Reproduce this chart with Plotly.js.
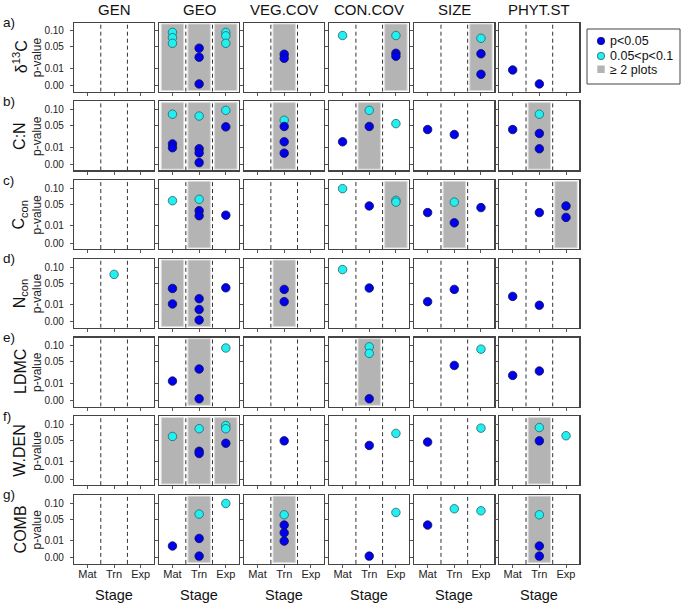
<!DOCTYPE html>
<html>
<head>
<meta charset="utf-8">
<script src="https://cdn.plot.ly/plotly-3.0.1.min.js"></script>
<style>html,body{margin:0;padding:0;background:#fff;}#chart{width:685px;height:604px;}</style>
</head>
<body>
<div id="chart"></div>
<script>
// ---------- data ----------
const predictors = ["GEN", "GEO", "VEG.COV", "CON.COV", "SIZE", "PHYT.ST"];
const stages = ["Mat", "Trn", "Exp"];
const responseLabels = ["δ<sup>13</sup>C", "C:N", "C<sub>con</sub>", "N<sub>con</sub>", "LDMC", "W.DEN", "COMB"];
const rowLetters = ["a)", "b)", "c)", "d)", "e)", "f)", "g)"];
const yTickValues = [0, 0.01, 0.05, 0.10];
const yTickText = ["0.00", "0.01", "0.05", "0.10"];

// [predictor, stage, p-value]
const pts_d13C = [["GEO","Mat",0.095],["GEO","Mat",0.077],["GEO","Mat",0.060],
  ["GEO","Trn",0.047],["GEO","Trn",0.027],["GEO","Trn",0.0001],
  ["GEO","Exp",0.095],["GEO","Exp",0.083],["GEO","Exp",0.060],
  ["VEG.COV","Trn",0.033],["VEG.COV","Trn",0.025],
  ["CON.COV","Mat",0.084],["CON.COV","Exp",0.084],["CON.COV","Exp",0.035],["CON.COV","Exp",0.029],
  ["SIZE","Exp",0.075],["SIZE","Exp",0.034],["SIZE","Exp",0.0043],
  ["PHYT.ST","Mat",0.0082],["PHYT.ST","Trn",0.0001]];
const pts_CN = [["GEO","Mat",0.084],["GEO","Mat",0.014],["GEO","Mat",0.0092],
  ["GEO","Trn",0.078],["GEO","Trn",0.0081],["GEO","Trn",0.0044],["GEO","Trn",0.0001],
  ["GEO","Exp",0.0975],["GEO","Exp",0.047],
  ["VEG.COV","Trn",0.065],["VEG.COV","Trn",0.048],["VEG.COV","Trn",0.017],["VEG.COV","Trn",0.0042],
  ["CON.COV","Mat",0.017],["CON.COV","Trn",0.0975],["CON.COV","Trn",0.048],["CON.COV","Exp",0.0555],
  ["SIZE","Mat",0.0405],["SIZE","Trn",0.0297],
  ["PHYT.ST","Mat",0.0405],["PHYT.ST","Trn",0.084],["PHYT.ST","Trn",0.032],["PHYT.ST","Trn",0.0081]];
const pts_Ccon = [["GEO","Mat",0.060],["GEO","Trn",0.064],["GEO","Trn",0.035],["GEO","Trn",0.025],["GEO","Exp",0.026],
  ["CON.COV","Mat",0.099],["CON.COV","Trn",0.046],["CON.COV","Exp",0.061],["CON.COV","Exp",0.056],
  ["SIZE","Mat",0.031],["SIZE","Trn",0.056],["SIZE","Trn",0.0137],["SIZE","Exp",0.042],
  ["PHYT.ST","Trn",0.031],["PHYT.ST","Exp",0.046],["PHYT.ST","Exp",0.022]];
const pts_Ncon = [["GEN","Trn",0.075],
  ["GEO","Mat",0.037],["GEO","Mat",0.0106],["GEO","Trn",0.0178],["GEO","Trn",0.005],["GEO","Trn",0.0001],["GEO","Exp",0.0385],
  ["VEG.COV","Trn",0.035],["VEG.COV","Trn",0.0135],
  ["CON.COV","Mat",0.091],["CON.COV","Trn",0.038],
  ["SIZE","Mat",0.0135],["SIZE","Trn",0.035],
  ["PHYT.ST","Mat",0.0215],["PHYT.ST","Trn",0.0091]];
const pts_LDMC = [["GEO","Mat",0.0126],["GEO","Trn",0.033],["GEO","Trn",0.0001],["GEO","Exp",0.092],
  ["CON.COV","Trn",0.096],["CON.COV","Trn",0.074],["CON.COV","Trn",0.0001],
  ["SIZE","Trn",0.041],["SIZE","Exp",0.088],
  ["PHYT.ST","Mat",0.021],["PHYT.ST","Trn",0.029]];
const pts_WDEN = [["GEO","Mat",0.061],["GEO","Trn",0.085],["GEO","Trn",0.026],["GEO","Trn",0.022],
  ["GEO","Exp",0.096],["GEO","Exp",0.085],["GEO","Exp",0.043],
  ["VEG.COV","Trn",0.049],
  ["CON.COV","Trn",0.038],["CON.COV","Exp",0.070],
  ["SIZE","Mat",0.046],["SIZE","Exp",0.087],
  ["PHYT.ST","Trn",0.089],["PHYT.ST","Trn",0.049],["PHYT.ST","Exp",0.063]];
const pts_COMB = [["GEO","Mat",0.0047],["GEO","Trn",0.064],["GEO","Trn",0.0126],["GEO","Trn",0.0001],["GEO","Exp",0.099],
  ["VEG.COV","Trn",0.062],["VEG.COV","Trn",0.036],["VEG.COV","Trn",0.021],["VEG.COV","Trn",0.0094],
  ["CON.COV","Trn",0.0001],["CON.COV","Exp",0.069],
  ["SIZE","Mat",0.036],["SIZE","Trn",0.0805],["SIZE","Exp",0.074],
  ["PHYT.ST","Trn",0.062],["PHYT.ST","Trn",0.0047],["PHYT.ST","Trn",0.0001]];

// [predictor, stage] cells with >= 2 plots
const grey_d13C = [["GEO","Mat"],["GEO","Trn"],["GEO","Exp"],["VEG.COV","Trn"],["CON.COV","Exp"],["SIZE","Exp"]];
const grey_CN   = [["GEO","Mat"],["GEO","Trn"],["GEO","Exp"],["VEG.COV","Trn"],["CON.COV","Trn"],["PHYT.ST","Trn"]];
const grey_Ccon = [["GEO","Trn"],["CON.COV","Exp"],["SIZE","Trn"],["PHYT.ST","Exp"]];
const grey_Ncon = [["GEO","Mat"],["GEO","Trn"],["VEG.COV","Trn"]];
const grey_LDMC = [["GEO","Trn"],["CON.COV","Trn"]];
const grey_WDEN = [["GEO","Mat"],["GEO","Trn"],["GEO","Exp"],["PHYT.ST","Trn"]];
const grey_COMB = [["GEO","Trn"],["VEG.COV","Trn"],["PHYT.ST","Trn"]];

const rowPoints = [pts_d13C, pts_CN, pts_Ccon, pts_Ncon, pts_LDMC, pts_WDEN, pts_COMB];
const rowGrey = [grey_d13C, grey_CN, grey_Ccon, grey_Ncon, grey_LDMC, grey_WDEN, grey_COMB];

// ---------- layout / drawing ----------
const W = 685, H = 604;
const BLUE = "#0000ee", CYAN = "#22f0f0", GREY = "#b4b4b4";
const FONT = "Liberation Sans, Arial, sans-serif";
const px = x => x / W, py = y => 1 - y / H;
const colLeft = i => 74.1 + 85.05 * i, panelW = 80;
const rowTop = j => 22.7 + 78.7 * j, panelH = 69;
const tr = p => Math.sqrt(p);
const stageX = s => stages.indexOf(s) + 1;
const YR = [-0.035, 0.364];

const data = [], shapes = [], annotations = [];
const layout = {
  width: W, height: H, margin: {l: 0, r: 0, t: 0, b: 0},
  paper_bgcolor: "#fff", plot_bgcolor: "#fff", showlegend: false,
  font: {family: FONT, color: "#222"}
};

for (let j = 0; j < 7; j++) {
  for (let i = 0; i < 6; i++) {
    const k = j * 6 + i + 1;
    const xn = k === 1 ? "" : String(k);
    const xref = "x" + xn, yref = "y" + xn;
    layout["xaxis" + xn] = {
      domain: [px(colLeft(i)), px(colLeft(i) + panelW)], anchor: yref,
      range: [0.5, 3.5], tickvals: [1, 2, 3], ticktext: stages,
      showticklabels: j === 6, ticks: "outside", ticklen: 3, tickwidth: 1, tickcolor: "#555",
      tickfont: {size: 11, family: FONT, color: "#222"}, ticklabelstandoff: -3,
      showline: true, mirror: true, linecolor: "#444", linewidth: 1.2,
      showgrid: false, zeroline: false, fixedrange: true
    };
    layout["yaxis" + xn] = {
      domain: [py(rowTop(j) + panelH), py(rowTop(j))], anchor: xref,
      range: YR, tickvals: yTickValues.map(tr), ticktext: yTickText,
      showticklabels: i === 0, ticks: "outside", ticklen: 3, tickwidth: 1, tickcolor: "#555",
      tickfont: {size: 10, family: FONT, color: "#222"}, ticklabelstandoff: 4,
      showline: true, mirror: true, linecolor: "#444", linewidth: 1.2,
      showgrid: false, zeroline: false, fixedrange: true
    };
    // grey cells
    rowGrey[j].filter(g => g[0] === predictors[i]).forEach(g => {
      const c = stageX(g[1]);
      shapes.push({type: "rect", xref: xref, yref: yref, x0: c - 0.42, x1: c + 0.42,
        y0: -0.028, y1: 0.357, fillcolor: GREY, line: {color: "#dcdcdc", width: 1}, layer: "below"});
    });
    // dashed separators
    [1.5, 2.5].forEach(xv => shapes.push({type: "line", xref: xref, yref: yref,
      x0: xv, x1: xv, y0: YR[0], y1: YR[1], line: {color: "#333", width: 1, dash: "4px,3px"}, layer: "below"}));
    // points
    const pts = rowPoints[j].filter(p => p[0] === predictors[i]);
    const marg = pts.filter(p => p[2] >= 0.05), sig = pts.filter(p => p[2] < 0.05);
    [[marg, CYAN, "#2a5f66"], [sig, BLUE, "#101050"]].forEach(([arr, col, lc]) => {
      data.push({type: "scatter", mode: "markers", xaxis: xref, yaxis: yref,
        x: arr.map(p => stageX(p[1])), y: arr.map(p => tr(p[2])),
        marker: {size: 8.5, color: col, line: {color: lc, width: 0.8}},
        hoverinfo: "skip", cliponaxis: false});
    });
  }
}

// column titles and "Stage" labels
predictors.forEach((p, i) => {
  const cx = px(colLeft(i) + panelW / 2);
  annotations.push({text: p, x: cx, y: py(10), xref: "paper", yref: "paper", xanchor: "center", yanchor: "middle",
    showarrow: false, font: {size: 15, family: FONT, color: "#111"}});
  annotations.push({text: "Stage", x: cx, y: py(595), xref: "paper", yref: "paper", xanchor: "center", yanchor: "middle",
    showarrow: false, font: {size: 14.5, family: FONT, color: "#111"}});
});
// row labels
responseLabels.forEach((lab, j) => {
  const cy = rowTop(j) + panelH / 2;
  annotations.push({text: rowLetters[j], x: px(1), y: py(rowTop(j)), xref: "paper", yref: "paper",
    xanchor: "left", yanchor: "middle", showarrow: false, font: {size: 13.5, family: FONT, color: "#111"}});
  annotations.push({text: lab, x: px(20), y: py(cy), xref: "paper", yref: "paper", textangle: -90,
    xanchor: "center", yanchor: "middle", showarrow: false, font: {size: 16, family: FONT, color: "#111"}});
  annotations.push({text: "p-value", x: px(37), y: py(cy), xref: "paper", yref: "paper", textangle: -90,
    xanchor: "center", yanchor: "middle", showarrow: false, font: {size: 12, family: FONT, color: "#222"}});
});

// legend (drawn manually)
shapes.push({type: "rect", xref: "paper", yref: "paper", x0: px(587), x1: px(680), y0: py(84), y1: py(29),
  line: {color: "#444", width: 1}, fillcolor: "#fff"});
shapes.push({type: "circle", xref: "paper", yref: "paper", x0: px(597.3), x1: px(604.7), y0: py(44.7), y1: py(37.3),
  fillcolor: BLUE, line: {color: "#101050", width: 0.8}});
shapes.push({type: "circle", xref: "paper", yref: "paper", x0: px(597.3), x1: px(604.7), y0: py(59.7), y1: py(52.3),
  fillcolor: CYAN, line: {color: "#2a5f66", width: 0.8}});
shapes.push({type: "rect", xref: "paper", yref: "paper", x0: px(597.3), x1: px(604.7), y0: py(73), y1: py(65.5),
  fillcolor: GREY, line: {width: 0}});
[["p&lt;0.05", 41], ["0.05&lt;p&lt;0.1", 56], ["≥ 2 plots", 69.5]].forEach(([t, y]) => {
  annotations.push({text: t, x: px(608), y: py(y), xref: "paper", yref: "paper", xanchor: "left", yanchor: "middle",
    showarrow: false, font: {size: 12.5, family: FONT, color: "#111"}});
});

layout.shapes = shapes;
layout.annotations = annotations;
Plotly.newPlot("chart", data, layout, {displayModeBar: false, staticPlot: true});
</script>
</body>
</html>
